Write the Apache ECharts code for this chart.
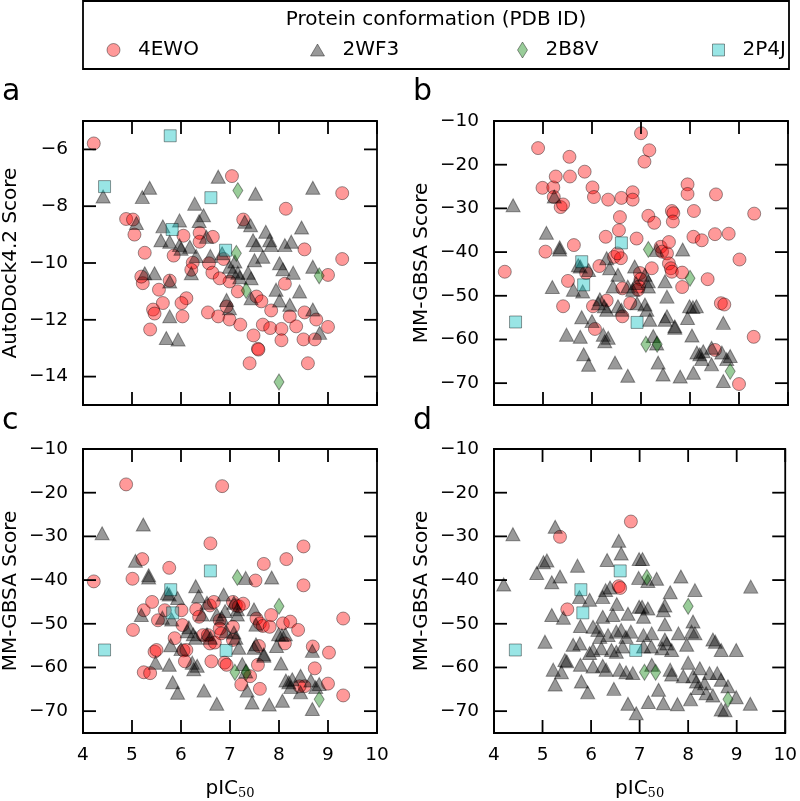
<!DOCTYPE html>
<html>
<head>
<meta charset="utf-8">
<script src="https://cdn.jsdelivr.net/npm/echarts@6/dist/echarts.min.js"></script>
<style>
html,body{margin:0;padding:0;background:#fff;}
#chart{width:800px;height:801px;}
</style>
</head>
<body>
<div id="chart"></div>
<script>
// ---------- DATA ----------
const conformations = ['4EWO', '2WF3', '2B8V', '2P4J'];
const panelLetters = ['a', 'b', 'c', 'd'];
const yTitles = ['AutoDock4.2 Score', 'MM-GBSA Score', 'MM-GBSA Score', 'MM-GBSA Score'];
const xTicks = [4, 5, 6, 7, 8, 9, 10];
const yTicksDock = [-14, -12, -10, -8, -6];
const yTicksGbsa = [-70, -60, -50, -40, -30, -20, -10];
const yRangeDock = [-15, -5];
const yRangeGbsa = [-75, -10];

// Panel a: AutoDock4.2 score vs pIC50
const a_4EWO = [[4.22,-5.79],[7.04,-6.94],[9.29,-7.54],[8.14,-8.09],[4.88,-8.45],[5.02,-8.47],[5.05,-9.0],[5.26,-9.64],[5.85,-9.74],[6.05,-9.04],[6.38,-8.94],[6.65,-9.08],[7.27,-8.47],[8.52,-9.52],[9.29,-9.86],[9.0,-10.42],[8.12,-10.73],[6.24,-9.99],[6.21,-10.24],[6.57,-10.01],[6.64,-10.34],[6.87,-9.86],[6.99,-10.65],[6.79,-10.54],[5.22,-10.71],[5.19,-10.48],[5.55,-10.94],[5.77,-10.62],[6.11,-11.24],[5.63,-11.41],[6.01,-11.41],[5.43,-11.64],[5.46,-11.78],[6.03,-11.88],[5.37,-12.34],[6.55,-11.74],[6.76,-11.88],[6.93,-11.53],[6.99,-11.99],[7.21,-12.17],[7.16,-11.0],[7.48,-12.55],[7.57,-13.02],[7.58,-13.05],[7.4,-13.53],[7.54,-11.18],[7.64,-11.35],[7.84,-11.67],[7.67,-12.17],[7.82,-12.29],[8.05,-12.32],[8.05,-12.72],[8.22,-11.88],[8.35,-12.23],[8.52,-11.74],[8.5,-12.69],[8.59,-13.53],[8.73,-12.69],[8.76,-11.99],[9.0,-12.25],[6.38,-9.25]];
const a_2WF3 = [[4.41,-7.66],[5.36,-7.35],[5.21,-7.68],[6.76,-6.96],[7.52,-7.56],[8.69,-7.35],[6.28,-7.91],[6.46,-8.32],[6.37,-8.52],[5.97,-8.5],[5.63,-8.71],[5.09,-8.59],[7.3,-8.55],[7.42,-8.67],[7.73,-8.9],[8.46,-8.75],[5.77,-9.25],[5.97,-9.37],[6.18,-9.43],[6.52,-9.08],[7.47,-9.2],[7.54,-9.37],[7.81,-9.2],[7.84,-9.37],[8.12,-9.37],[8.25,-9.25],[7.67,-9.78],[7.5,-9.9],[8.01,-10.01],[8.08,-10.22],[8.29,-10.34],[8.69,-10.13],[6.99,-10.13],[7.06,-10.3],[7.16,-10.34],[7.37,-10.34],[7.43,-10.54],[5.26,-10.36],[5.46,-10.36],[5.77,-10.65],[6.21,-10.36],[7.94,-10.94],[8.42,-11.0],[8.01,-11.32],[8.22,-11.47],[7.43,-11.24],[6.93,-11.3],[6.99,-11.59],[5.77,-11.88],[8.69,-11.64],[8.83,-12.46],[5.7,-12.64],[5.94,-12.69],[6.84,-9.66],[6.31,-9.75],[5.59,-9.2],[6.0,-9.5],[7.1,-9.95],[7.2,-10.5],[6.6,-9.75]];
const a_2B8V = [[7.16,-7.45],[7.13,-9.66],[7.33,-10.97],[8.82,-10.45],[8.0,-14.19]];
const a_2P4J = [[5.78,-5.52],[4.44,-7.31],[6.61,-7.7],[5.82,-8.82],[6.91,-9.55]];

// Panel b: MM-GBSA score
const b_4EWO = [[4.22,-44.5],[4.9,-16.2],[4.99,-25.3],[5.21,-25.2],[5.26,-22.7],[5.22,-27.4],[5.36,-29.7],[5.41,-29.1],[5.05,-39.9],[5.54,-18.2],[5.55,-22.7],[5.85,-21.6],[6.01,-25.2],[6.04,-27.4],[6.33,-28.0],[6.6,-27.6],[6.83,-26.3],[6.83,-28.0],[7.0,-12.8],[7.07,-19.3],[7.17,-16.7],[6.57,-32.0],[7.15,-31.7],[7.27,-33.3],[7.63,-30.6],[7.66,-31.1],[7.65,-33.0],[7.95,-24.5],[7.95,-26.7],[8.08,-30.6],[8.53,-26.8],[9.31,-31.2],[8.07,-36.5],[8.24,-37.3],[8.51,-35.9],[8.79,-35.8],[9.01,-41.7],[5.63,-38.4],[5.51,-46.6],[5.41,-52.4],[5.88,-44.8],[6.02,-52.4],[6.06,-57.6],[6.15,-43.2],[6.3,-51.1],[6.28,-36.5],[6.55,-35.0],[6.45,-41.1],[6.59,-41.4],[6.52,-40.3],[6.62,-48.3],[6.62,-54.7],[6.78,-51.7],[6.91,-36.9],[6.98,-44.8],[6.99,-46.2],[6.96,-47.9],[6.94,-48.6],[7.22,-43.7],[7.4,-38.8],[7.43,-39.9],[7.53,-40.3],[7.57,-37.7],[7.57,-42.6],[7.61,-43.7],[7.63,-44.5],[7.84,-44.7],[7.84,-48.0],[8.36,-46.2],[8.63,-51.7],[8.7,-52.0],[8.51,-62.4],[9.0,-70.2],[9.3,-59.4]];
const bc_2WF3 = [[4.39,-29.3],[5.07,-35.6],[5.34,-38.9],[5.19,-48.0],[5.23,-27.3],[5.48,-58.9],[5.79,-54.9],[5.76,-59.4],[5.83,-63.4],[5.93,-65.8],[5.62,-48.6],[5.81,-49.0],[5.72,-43.0],[5.76,-43.3],[5.93,-44.1],[6.0,-55.8],[6.16,-50.8],[6.13,-51.7],[6.25,-52.4],[6.3,-53.2],[6.23,-58.9],[6.26,-60.4],[6.33,-59.6],[6.3,-41.4],[6.36,-43.7],[6.47,-65.3],[6.53,-45.2],[6.43,-47.9],[6.53,-52.4],[6.6,-53.2],[6.73,-68.3],[6.73,-47.9],[6.83,-48.6],[6.9,-47.1],[6.87,-43.3],[6.92,-51.7],[7.08,-45.2],[7.08,-52.0],[7.12,-53.2],[7.15,-46.7],[7.15,-47.9],[7.18,-55.5],[7.25,-59.2],[7.32,-60.9],[7.35,-65.3],[7.45,-68.0],[7.32,-39.5],[7.49,-46.7],[7.53,-50.2],[7.53,-54.7],[7.49,-55.5],[7.69,-57.0],[7.69,-57.3],[7.8,-68.5],[7.85,-39.4],[7.95,-55.1],[7.99,-52.4],[8.04,-59.1],[8.06,-52.6],[8.13,-52.4],[8.07,-67.6],[8.14,-63.0],[8.2,-63.4],[8.24,-64.5],[8.27,-62.7],[8.44,-65.7],[8.44,-61.9],[8.65,-63.0],[8.68,-56.2],[8.68,-69.5],[8.82,-63.8],[8.75,-64.5],[5.34,-39.4]];
const bcd_2B8V = [[7.15,-39.4],[8.0,-46.0],[7.1,-61.1],[7.33,-61.1],[8.82,-67.3]];
const bcd_2P4J = [[4.44,-56.0],[5.79,-42.2],[5.83,-47.5],[6.6,-37.9],[6.92,-56.1]];

// Panel c
const c_4EWO = [[4.22,-40.3],[4.88,-18.1],[6.84,-18.5],[5.01,-39.7],[5.02,-51.4],[5.21,-35.2],[5.24,-46.9],[5.41,-45.0],[5.24,-61.1],[5.37,-61.3],[5.46,-56.4],[5.5,-56.0],[5.53,-49.2],[5.67,-46.9],[5.76,-37.2],[5.87,-53.3],[6.01,-46.9],[6.03,-50.3],[6.05,-56.1],[6.08,-58.6],[6.11,-56.0],[6.31,-46.7],[6.37,-48.4],[6.45,-52.6],[6.55,-52.6],[6.59,-54.5],[6.59,-45.8],[6.6,-31.6],[6.62,-58.6],[6.67,-45.0],[6.69,-54.3],[6.79,-49.2],[6.79,-51.1],[6.82,-52.2],[6.89,-58.9],[6.93,-59.4],[7.06,-45.0],[7.12,-45.8],[7.18,-46.0],[7.27,-45.4],[7.06,-53.7],[7.06,-50.7],[7.23,-63.9],[7.41,-62.0],[7.52,-40.1],[7.54,-48.8],[7.59,-55.1],[7.57,-59.4],[7.61,-64.9],[7.61,-49.9],[7.67,-50.5],[7.69,-36.3],[7.81,-50.7],[7.84,-48.0],[8.08,-49.9],[8.12,-54.5],[8.15,-35.2],[8.23,-49.5],[8.39,-51.4],[8.5,-32.3],[8.5,-41.2],[8.69,-55.2],[8.73,-60.2],[8.52,-64.3],[9.02,-56.6],[9.0,-63.7],[9.31,-48.8],[9.31,-66.4],[8.42,-64.3]];

// Panel d
const d_4EWO = [[5.36,-30.1],[6.82,-26.6],[5.51,-46.7],[6.57,-41.4],[6.6,-41.8]];
const d_2WF3 = [[4.39,-29.5],[5.26,-27.8],[4.2,-41.0],[5.02,-35.9],[5.09,-35.5],[4.88,-38.4],[5.19,-40.5],[5.36,-39.2],[5.72,-36.7],[6.57,-31.0],[6.62,-33.9],[6.33,-35.4],[6.99,-35.2],[6.98,-39.5],[5.19,-48.0],[5.43,-48.6],[5.76,-43.9],[5.97,-44.5],[6.24,-43.9],[6.3,-42.3],[6.39,-41.7],[6.53,-45.5],[6.45,-48.0],[6.76,-47.7],[6.24,-48.4],[5.78,-50.5],[6.04,-50.7],[6.14,-51.4],[6.18,-53.0],[6.35,-52.6],[6.52,-51.8],[6.62,-51.4],[6.72,-53.0],[6.82,-51.8],[6.99,-46.1],[5.05,-54.1],[5.63,-54.8],[5.77,-54.5],[5.97,-56.7],[6.04,-56.0],[6.21,-55.6],[6.42,-56.0],[6.52,-56.4],[6.65,-55.2],[5.5,-58.6],[5.46,-58.3],[5.22,-60.5],[5.39,-61.1],[5.78,-59.4],[6.04,-59.8],[6.24,-59.6],[6.31,-60.5],[6.59,-60.5],[6.72,-61.1],[6.86,-61.3],[5.26,-63.9],[5.8,-63.2],[5.93,-65.7],[6.47,-64.9],[6.76,-68.3],[6.93,-70.5],[7.06,-35.2],[7.17,-40.2],[7.35,-39.7],[7.85,-39.2],[7.63,-42.8],[8.14,-42.3],[9.29,-41.5],[7.05,-46.1],[7.17,-46.5],[7.52,-45.8],[7.49,-46.9],[7.08,-48.4],[7.52,-50.1],[8.1,-49.5],[8.07,-51.8],[8.14,-52.2],[7.8,-52.2],[7.25,-52.2],[7.08,-52.6],[7.52,-53.6],[7.56,-54.5],[7.46,-55.6],[7.66,-56.0],[7.97,-54.8],[7.24,-55.2],[7.08,-55.2],[8.51,-53.6],[8.56,-54.1],[8.68,-56.0],[8.99,-56.0],[8.0,-58.9],[8.24,-60.2],[7.25,-59.4],[7.63,-60.5],[7.66,-61.6],[7.9,-62.0],[8.1,-62.0],[8.17,-63.2],[8.2,-64.7],[8.44,-61.3],[8.6,-61.3],[8.68,-62.8],[8.82,-64.3],[8.51,-66.4],[7.39,-65.1],[7.18,-67.9],[7.49,-68.2],[7.78,-68.4],[8.05,-67.3],[8.68,-69.6],[8.76,-69.8],[8.99,-66.8],[9.28,-68.3],[8.34,-63.6],[8.37,-65.9]];

const panelData = [
  [a_4EWO, a_2WF3, a_2B8V, a_2P4J],
  [b_4EWO, bc_2WF3, bcd_2B8V, bcd_2P4J],
  [c_4EWO, bc_2WF3, bcd_2B8V, bcd_2P4J],
  [d_4EWO, d_2WF3, bcd_2B8V, bcd_2P4J]
];

// ---------- STYLE ----------
const FONT = 'DejaVu Sans';
const EDGE = 'rgba(0,0,0,0.5)';
const TICK_LEN = 13;
const LINE_W = 1.8;
const styles = {
  '4EWO': {symbol: 'circle', size: 13, color: 'rgba(255,0,0,0.5)', legendW: 13, legendH: 13},
  '2WF3': {symbol: 'triangle', size: [14, 13], color: 'rgba(0,0,0,0.5)', legendW: 14, legendH: 12},
  '2B8V': {symbol: 'diamond', size: [10, 16], color: 'rgba(0,128,0,0.5)', legendW: 10, legendH: 16},
  '2P4J': {symbol: 'rect', size: 12, color: 'rgba(0,191,191,0.5)', legendW: 12, legendH: 12}
};

const grids = [
  {left: 83, top: 121, width: 294, height: 284},
  {left: 494, top: 121, width: 294, height: 284},
  {left: 83, top: 449, width: 294, height: 285},
  {left: 494, top: 449, width: 294, height: 285}
].map(function (g) {
  return Object.assign({show: true, borderColor: '#000', borderWidth: LINE_W, backgroundColor: 'transparent'}, g);
});

const panelYTicks = [yTicksDock, yTicksGbsa, yTicksGbsa, yTicksGbsa];
const panelYRange = [yRangeDock, yRangeGbsa, yRangeGbsa, yRangeGbsa];

const xAxes = [], yAxes = [], series = [];
for (let p = 0; p < 4; p++) {
  const bottomRow = p >= 2;
  const yt = panelYTicks[p];
  const yr = panelYRange[p];
  const bx = {
    gridIndex: p, type: 'value', position: 'bottom', min: xTicks[0], max: xTicks[xTicks.length - 1], interval: 1,
    axisLine: {show: true, onZero: false, lineStyle: {color: '#000', width: LINE_W}},
    axisTick: {show: false}, splitLine: {show: false},
    axisLabel: {show: bottomRow, margin: 13, color: '#000', fontFamily: FONT, fontSize: 18.5}
  };
  if (bottomRow) {
    bx.name = 'pIC{s|50}';
    bx.nameLocation = 'middle';
    bx.nameGap = 44;
    bx.nameTextStyle = {color: '#000', fontFamily: FONT, fontSize: 20,
      rich: {s: {fontFamily: 'DejaVu Serif', fontSize: 13, color: '#000', padding: [10, 0, 0, 0]}}};
  }
  xAxes.push(bx);
  yAxes.push({
    gridIndex: p, type: 'value', position: 'left', min: yr[0], max: yr[1],
    axisLine: {show: true, onZero: false, lineStyle: {color: '#000', width: LINE_W}},
    axisTick: {show: false}, splitLine: {show: false},
    axisLabel: {customValues: yt.slice(), margin: 15, color: '#000', fontFamily: FONT, fontSize: 18.5,
      formatter: function (v) { return String(v).replace('-', '\u2212'); }},
    name: yTitles[p], nameLocation: 'middle', nameGap: 62, nameRotate: 90,
    nameTextStyle: {color: '#000', fontFamily: FONT, fontSize: 20}
  });
  conformations.forEach(function (c, k) {
    const st = styles[c];
    series.push({
      type: 'scatter', name: c,
      xAxisIndex: p, yAxisIndex: p,
      data: panelData[p][k],
      symbol: st.symbol, symbolSize: st.size,
      itemStyle: {color: st.color, borderColor: EDGE, borderWidth: 1},
      emphasis: {disabled: true}
    });
  });
}

// legends: one component per entry so spacing matches
const legendCenters = {'4EWO': 113, '2WF3': 317, '2B8V': 522, '2P4J': 718};
const legends = conformations.map(function (c) {
  const st = styles[c];
  return {
    data: [c], orient: 'horizontal', padding: 0,
    left: legendCenters[c] - st.legendW / 2, top: 40,
    icon: st.symbol, itemWidth: st.legendW, itemHeight: st.legendH,
    itemStyle: {color: st.color, borderColor: EDGE, borderWidth: 1},
    textStyle: {color: '#000', fontFamily: FONT, fontSize: 20, padding: [0, 0, 0, 13]},
    selectedMode: false
  };
});

const letterPos = [[2, 77], [413, 77], [2, 406], [413, 406]];
const graphics = [
  {type: 'rect', shape: {x: 83, y: 1, width: 706, height: 68},
   style: {fill: 'none', stroke: '#000', lineWidth: LINE_W}, silent: true},
  {type: 'text', x: 436, y: 20,
   style: {text: 'Protein conformation (PDB ID)', fill: '#000', font: '20px "DejaVu Sans"',
     align: 'center', verticalAlign: 'middle', textAlign: 'center', textVerticalAlign: 'middle'}}
];
panelLetters.forEach(function (l, i) {
  graphics.push({type: 'text', x: letterPos[i][0], y: letterPos[i][1],
    style: {text: l, fill: '#000', font: '30px "DejaVu Sans"', align: 'left', verticalAlign: 'top',
      textAlign: 'left', textVerticalAlign: 'top'}});
});

const chart = echarts.init(document.getElementById('chart'), null, {renderer: 'canvas'});
chart.setOption({
  animation: false,
  backgroundColor: '#fff',
  textStyle: {fontFamily: FONT},
  grid: grids,
  xAxis: xAxes,
  yAxis: yAxes,
  legend: legends,
  graphic: graphics,
  series: series
});

// inward tick marks on all four sides, placed through each grid's scales
const tickLines = [];
for (let p = 0; p < 4; p++) {
  const yt = panelYTicks[p], yr = panelYRange[p];
  const xmin = xTicks[0], xmax = xTicks[xTicks.length - 1];
  const finder = {gridIndex: p};
  xTicks.forEach(function (v) {
    const b = chart.convertToPixel(finder, [v, yr[0]]);
    const t = chart.convertToPixel(finder, [v, yr[1]]);
    if (!b || !t) return;
    tickLines.push({type: 'line', silent: true, z: 10, shape: {x1: b[0], y1: b[1], x2: b[0], y2: b[1] - TICK_LEN}, style: {stroke: '#000', lineWidth: LINE_W}});
    tickLines.push({type: 'line', silent: true, z: 10, shape: {x1: t[0], y1: t[1], x2: t[0], y2: t[1] + TICK_LEN}, style: {stroke: '#000', lineWidth: LINE_W}});
  });
  yt.forEach(function (v) {
    const l = chart.convertToPixel(finder, [xmin, v]);
    const r = chart.convertToPixel(finder, [xmax, v]);
    if (!l || !r) return;
    tickLines.push({type: 'line', silent: true, z: 10, shape: {x1: l[0], y1: l[1], x2: l[0] + TICK_LEN, y2: l[1]}, style: {stroke: '#000', lineWidth: LINE_W}});
    tickLines.push({type: 'line', silent: true, z: 10, shape: {x1: r[0], y1: r[1], x2: r[0] - TICK_LEN, y2: r[1]}, style: {stroke: '#000', lineWidth: LINE_W}});
  });
}
chart.setOption({graphic: graphics.concat(tickLines)});
</script>
</body>
</html>
